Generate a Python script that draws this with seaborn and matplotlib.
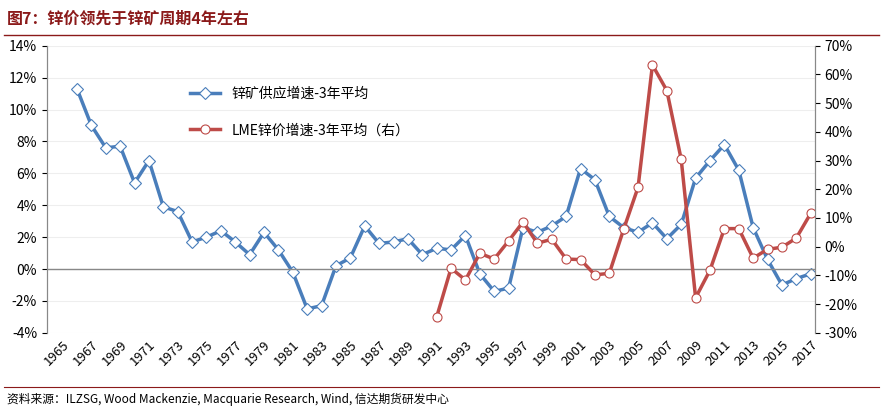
import numpy as np
import pandas as pd
import matplotlib.pyplot as plt
import seaborn as sns

plt.rcParams['font.family'] = ['Noto Sans CJK SC', 'DejaVu Sans']

# Data
supply_years = list(range(1966, 2018))
supply_growth = [11.3, 9.0, 7.6, 7.7, 5.4, 6.8, 3.9, 3.6, 1.7, 2.0, 2.4, 1.7, 0.9, 2.3, 1.2,
                 -0.2, -2.5, -2.3, 0.2, 0.7, 2.7, 1.6, 1.7, 1.9, 0.9, 1.3, 1.2, 2.1, -0.3,
                 -1.4, -1.2, 2.6, 2.3, 2.7, 3.3, 6.3, 5.6, 3.3, 2.6, 2.3, 2.9, 1.9, 2.8,
                 5.7, 6.8, 7.8, 6.2, 2.6, 0.6, -1.0, -0.6, -0.3]
price_years = list(range(1991, 2018))
price_growth = [-24.5, -7.5, -11.6, -2.3, -4.3, 2.0, 8.6, 1.2, 2.6, -4.3, -4.5, -9.8, -9.3,
                6.1, 20.7, 63.3, 54.4, 30.4, -17.8, -8.2, 6.3, 6.3, -4.0, -0.9, -0.2, 3.0, 11.6]
tick_years = list(range(1965, 2018, 2))

supply = pd.DataFrame({'year': supply_years, 'v': supply_growth})
price = pd.DataFrame({'year': price_years, 'v': price_growth})

blue = '#4a7ebb'
red = '#be4b48'

fig = plt.figure(figsize=(8.83, 4.16), dpi=100)
ax = fig.add_axes([0.053, 0.2, 0.87, 0.69])
ax2 = ax.twinx()

sns.lineplot(data=supply, x='year', y='v', ax=ax, color=blue, lw=2.5, marker='D', markersize=6,
             markerfacecolor='white', markeredgecolor=blue, markeredgewidth=0.8,
             label='锌矿供应增速-3年平均', legend=False)
sns.lineplot(data=price, x='year', y='v', ax=ax2, color=red, lw=2.5, marker='o', markersize=6.5,
             markerfacecolor='white', markeredgecolor=red, markeredgewidth=0.8,
             label='LME锌价增速-3年平均（右）', legend=False)

ax.set_xlim(1963.9, 2017.3)
ax.set_ylim(-4, 14)
ax2.set_ylim(-30, 70)
ax.set_yticks(range(-4, 15, 2))
ax.set_yticklabels([f'{v}%' for v in range(-4, 15, 2)], fontsize=10)
ax2.set_yticks(range(-30, 71, 10))
ax2.set_yticklabels([f'{v}%' for v in range(-30, 71, 10)], fontsize=10)
ax.set_xticks(tick_years)
ax.set_xticklabels([str(y) for y in tick_years], rotation=45, fontsize=9.5,
                   ha='right', rotation_mode='anchor')
ax.set_xlabel('')
ax.set_ylabel('')
ax2.set_ylabel('')
ax.grid(axis='y', color='#eeeeee', lw=0.8)
ax.axhline(0, color='#888888', lw=1)
for a in (ax, ax2):
    for s in ('top', 'bottom'):
        a.spines[s].set_visible(False)
    a.spines['left'].set_color('#888888')
    a.spines['right'].set_color('#888888')
ax.tick_params(axis='x', length=0, pad=4)

h1, l1 = ax.get_legend_handles_labels()
h2, l2 = ax2.get_legend_handles_labels()
ax.legend(h1 + h2, l1 + l2, loc='upper left', bbox_to_anchor=(0.17, 0.9), frameon=False,
          fontsize=10, labelspacing=1.6, handlelength=2.2)

fig.text(0.008, 0.955, '图7：锌价领先于锌矿周期4年左右', fontsize=11.5, fontweight='bold',
         color='#8b1a1a', va='center')
fig.add_artist(plt.Line2D([0.005, 0.995], [0.915, 0.915], color='#8b1a1a', lw=1))
fig.add_artist(plt.Line2D([0.005, 0.995], [0.07, 0.07], color='#8b1a1a', lw=0.8))
fig.text(0.008, 0.04, '资料来源：ILZSG, Wood Mackenzie, Macquarie Research, Wind, 信达期货研发中心',
         fontsize=8.5, va='center')

fig.savefig('out.png', dpi=100)
